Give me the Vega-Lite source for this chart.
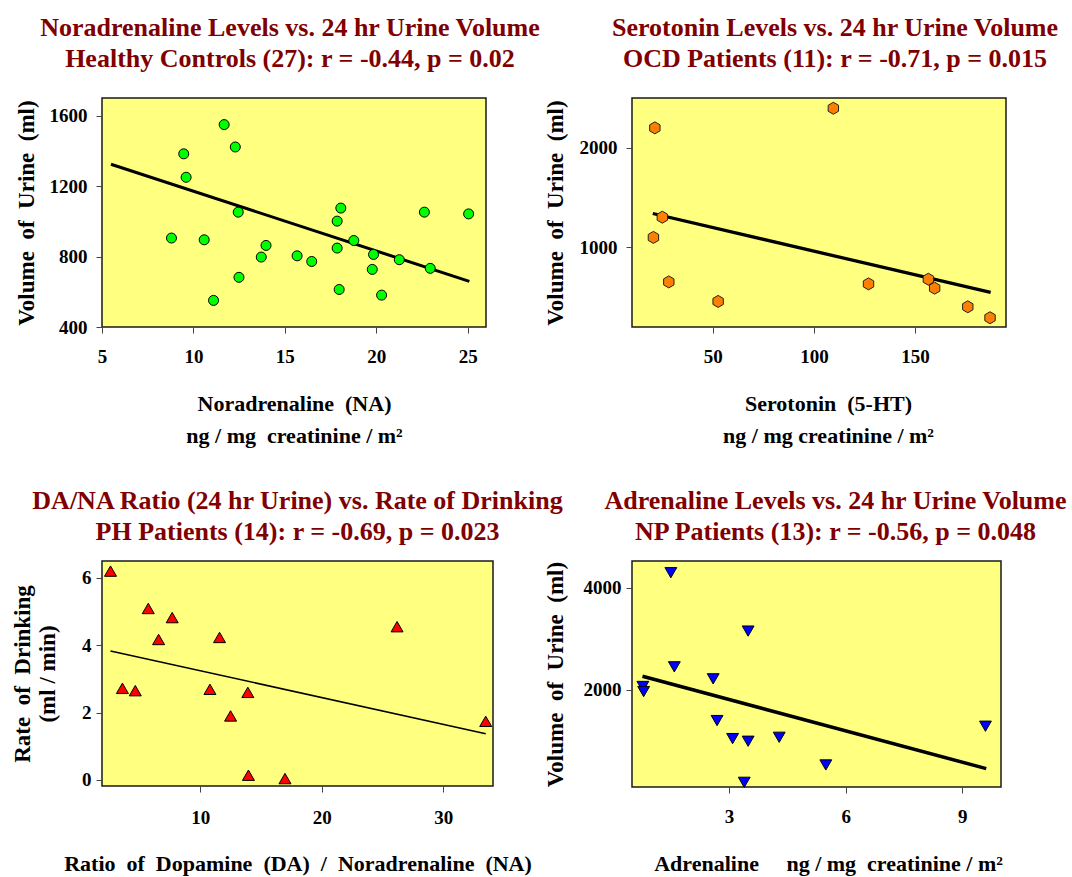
{
  "$schema": "https://vega.github.io/schema/vega-lite/v6.json",
  "padding": {"left": 10, "top": 14, "right": 2, "bottom": 2},
  "background": "white",
  "config": {
    "font": "Liberation Serif",
    "view": {"fill": "#FFFF80", "stroke": "#1a1a1a", "strokeWidth": 1.5},
    "axis": {"grid": false, "domain": false, "tickColor": "#444", "tickSize": 6, "tickWidth": 1, "format": "d",
      "labelFont": "Liberation Serif", "labelFontSize": 19, "labelFontWeight": "bold", "labelColor": "#000",
      "titleFont": "Liberation Serif", "titleFontSize": 22, "titleFontWeight": "bold", "titleColor": "#000",
      "labelOverlap": false, "labelBound": false, "labelFlush": false},
    "axisLeft": {"titleFontSize": 23},
    "title": {"font": "Liberation Serif", "fontSize": 26, "fontWeight": "bold", "color": "#800000", "anchor": "middle", "frame": "group", "lineHeight": 31, "offset": 26}
  },
  "datasets": {
    "na": [
      {"x": 8.8, "y": 905}, {"x": 9.47, "y": 1383}, {"x": 9.6, "y": 1250}, {"x": 10.59, "y": 895}, {"x": 11.1, "y": 551},
      {"x": 11.68, "y": 1549}, {"x": 12.29, "y": 1422}, {"x": 12.45, "y": 1052}, {"x": 12.49, "y": 682}, {"x": 13.71, "y": 797},
      {"x": 13.97, "y": 863}, {"x": 15.67, "y": 804}, {"x": 16.47, "y": 772}, {"x": 17.86, "y": 1001}, {"x": 18.06, "y": 1075},
      {"x": 17.86, "y": 848}, {"x": 17.97, "y": 613}, {"x": 18.77, "y": 891}, {"x": 19.85, "y": 812}, {"x": 19.78, "y": 727},
      {"x": 20.29, "y": 581}, {"x": 21.26, "y": 782}, {"x": 22.63, "y": 1052}, {"x": 22.95, "y": 733}, {"x": 25.05, "y": 1042}
    ],
    "na_fit": [{"x": 5.49, "y": 1324}, {"x": 25.09, "y": 659}],
    "ser": [
      {"x": 21.3, "y": 2200}, {"x": 109.6, "y": 2397}, {"x": 25.0, "y": 1303}, {"x": 20.6, "y": 1100}, {"x": 28.2, "y": 653},
      {"x": 52.6, "y": 457}, {"x": 127.0, "y": 633}, {"x": 156.6, "y": 680}, {"x": 159.7, "y": 590}, {"x": 176.1, "y": 403},
      {"x": 187.1, "y": 293}
    ],
    "ser_fit": [{"x": 20.3, "y": 1340}, {"x": 187.4, "y": 547}],
    "dana": [
      {"x": 2.6, "y": 6.2}, {"x": 3.58, "y": 2.72}, {"x": 4.64, "y": 2.65}, {"x": 5.71, "y": 5.09}, {"x": 6.56, "y": 4.17},
      {"x": 7.68, "y": 4.82}, {"x": 10.79, "y": 2.69}, {"x": 11.58, "y": 4.23}, {"x": 12.49, "y": 1.9}, {"x": 13.91, "y": 2.6},
      {"x": 13.96, "y": 0.14}, {"x": 16.97, "y": 0.04}, {"x": 26.2, "y": 4.55}, {"x": 33.5, "y": 1.74}
    ],
    "dana_fit": [{"x": 2.6, "y": 3.83}, {"x": 33.5, "y": 1.37}],
    "adr": [
      {"x": 0.78, "y": 2060}, {"x": 0.8, "y": 1960}, {"x": 1.5, "y": 4295}, {"x": 1.59, "y": 2446}, {"x": 2.59, "y": 2210},
      {"x": 2.69, "y": 1390}, {"x": 3.09, "y": 1036}, {"x": 3.49, "y": 3148}, {"x": 3.49, "y": 984}, {"x": 3.39, "y": 177},
      {"x": 4.29, "y": 1062}, {"x": 5.49, "y": 518}, {"x": 9.6, "y": 1279}
    ],
    "adr_fit": [{"x": 0.77, "y": 2262}, {"x": 9.62, "y": 446}]
  },
  "columns": 2,
  "spacing": {"row": 234, "column": 139},
  "bounds": "flush",
  "align": "each",
  "concat": [
    {
      "width": 384, "height": 229,
      "title": {"text": ["Noradrenaline Levels vs. 24 hr Urine Volume", "Healthy Controls (27): r = -0.44, p = 0.02"], "dx": -4},
      "encoding": {
        "x": {"field": "x", "type": "quantitative", "scale": {"domain": [5, 26], "nice": false, "zero": false},
          "axis": {"values": [5, 10, 15, 20, 25], "labelPadding": 14, "titlePadding": 27, "titleLineHeight": 32,
            "title": ["Noradrenaline\u00a0 (NA)", "ng / mg\u00a0 creatinine / m²"]}},
        "y": {"field": "y", "type": "quantitative", "scale": {"domain": [400, 1700], "nice": false, "zero": false},
          "axis": {"values": [400, 800, 1200, 1600], "labelPadding": 9, "titlePadding": 11, "title": "Volume\u00a0 of\u00a0 Urine\u00a0 (ml)"}}
      },
      "layer": [
        {"data": {"name": "na_fit"}, "mark": {"type": "line", "color": "#000", "strokeWidth": 3}, "encoding": {}},
        {"data": {"name": "na"}, "mark": {"type": "point", "shape": "circle", "filled": true, "fill": "#00FF00", "stroke": "#000", "strokeWidth": 1, "size": 100, "opacity": 1}}
      ]
    },
    {
      "width": 374, "height": 229,
      "title": {"text": ["Serotonin Levels vs. 24 hr Urine Volume", "OCD Patients (11): r = -0.71, p = 0.015"], "dx": 16},
      "encoding": {
        "x": {"field": "x", "type": "quantitative", "scale": {"domain": [10, 195], "nice": false, "zero": false},
          "axis": {"values": [50, 100, 150], "labelPadding": 14, "titlePadding": 27, "titleLineHeight": 32, "titleX": 196,
            "title": ["Serotonin\u00a0 (5-HT)", "ng / mg creatinine / m²"]}},
        "y": {"field": "y", "type": "quantitative", "scale": {"domain": [200, 2500], "nice": false, "zero": false},
          "axis": {"values": [1000, 2000], "labelPadding": 9, "titlePadding": 12, "title": "Volume\u00a0 of\u00a0 Urine\u00a0 (ml)"}}
      },
      "layer": [
        {"data": {"name": "ser_fit"}, "mark": {"type": "line", "color": "#000", "strokeWidth": 3.3}, "encoding": {}},
        {"data": {"name": "ser"}, "mark": {"type": "point", "shape": "M0,-1L0.866,-0.5L0.866,0.5L0,1L-0.866,0.5L-0.866,-0.5Z", "filled": true, "fill": "#FF8000", "stroke": "#222", "strokeWidth": 1, "size": 144, "opacity": 1}}
      ]
    },
    {
      "width": 391, "height": 225,
      "title": {"text": ["DA/NA Ratio (24 hr Urine) vs. Rate of Drinking", "PH Patients (14): r = -0.69, p = 0.023"], "offset": 16},
      "encoding": {
        "x": {"field": "x", "type": "quantitative", "scale": {"domain": [1.9, 34.1], "nice": false, "zero": false},
          "axis": {"values": [10, 20, 30], "labelPadding": 16, "titlePadding": 26,
            "title": "Ratio\u00a0 of\u00a0 Dopamine\u00a0 (DA)\u00a0 /\u00a0 Noradrenaline\u00a0 (NA)"}},
        "y": {"field": "y", "type": "quantitative", "scale": {"domain": [-0.18, 6.5], "nice": false, "zero": false},
          "axis": {"values": [0, 2, 4, 6], "labelPadding": 5, "titlePadding": 22, "titleLineHeight": 25, "title": ["Rate\u00a0 of\u00a0 Drinking", "(ml / min)"]}}
      },
      "layer": [
        {"data": {"name": "dana_fit"}, "mark": {"type": "line", "color": "#000", "strokeWidth": 1.5}, "encoding": {}},
        {"data": {"name": "dana"}, "mark": {"type": "point", "shape": "triangle-up", "filled": true, "fill": "#FF0000", "stroke": "#000", "strokeWidth": 1, "size": 144, "opacity": 1}}
      ]
    },
    {
      "width": 369, "height": 226,
      "title": {"text": ["Adrenaline Levels vs. 24 hr Urine Volume", "NP Patients (13): r = -0.56, p = 0.048"], "dx": 19, "offset": 16},
      "encoding": {
        "x": {"field": "x", "type": "quantitative", "scale": {"domain": [0.5, 10], "nice": false, "zero": false},
          "axis": {"values": [3, 6, 9], "labelPadding": 14, "titlePadding": 27, "titleX": 196,
            "title": "Adrenaline\u00a0\u00a0\u00a0\u00a0 ng / mg\u00a0 creatinine / m²"}},
        "y": {"field": "y", "type": "quantitative", "scale": {"domain": [85, 4525], "nice": false, "zero": false},
          "axis": {"values": [2000, 4000], "labelPadding": 5, "titlePadding": 16, "title": "Volume\u00a0 of\u00a0 Urine\u00a0 (ml)"}}
      },
      "layer": [
        {"data": {"name": "adr_fit"}, "mark": {"type": "line", "color": "#000", "strokeWidth": 3.5}, "encoding": {}},
        {"data": {"name": "adr"}, "mark": {"type": "point", "shape": "triangle-down", "filled": true, "fill": "#0000FF", "stroke": "#000", "strokeWidth": 1, "size": 140, "opacity": 1}}
      ]
    }
  ]
}
